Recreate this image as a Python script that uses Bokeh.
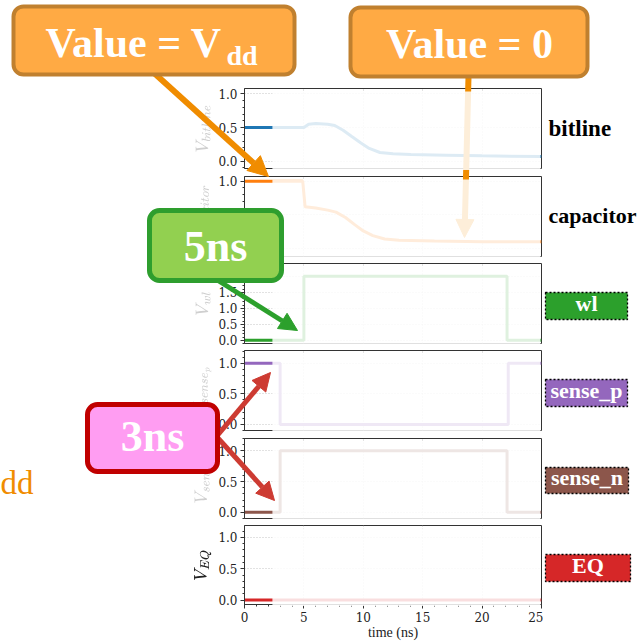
from bokeh.plotting import figure
from bokeh.layouts import column
from bokeh.models import (Range1d, SingleIntervalTicker, BoxAnnotation, Label,
                          Arrow, NormalHead, PrintfTickFormatter)
from bokeh.embed import file_html
from bokeh.resources import INLINE

# ---------------- data ----------------
signals = ["bitline", "capacitor", "wl", "sense_p", "sense_n", "EQ"]
colors = ["#1f77b4", "#ff7f0e", "#2ca02c", "#9467bd", "#8c564b", "#d62728"]
ylabels = [r"$$V_{bitline}$$", r"$$V_{capacitor}$$", r"$$V_{wl}$$",
           r"$$V_{sense_p}$$", r"$$V_{sense_n}$$", r"$$V_{EQ}$$"]

t_bitline = [0, 5.0, 5.4, 6.0, 7.0, 7.6, 8.3, 9.0, 9.8, 10.5, 11.4, 12.5, 14, 17, 20, 25]
v_bitline = [0.5, 0.5, 0.55, 0.56, 0.55, 0.53, 0.46, 0.37, 0.27, 0.19, 0.13, 0.11, 0.10, 0.09, 0.08, 0.07]

t_capacitor = [0, 4.9, 5.1, 6, 7, 7.7, 8.5, 9.3, 10, 10.8, 11.8, 13, 16, 20, 25]
v_capacitor = [1.0, 1.0, 0.62, 0.6, 0.57, 0.54, 0.46, 0.35, 0.26, 0.19, 0.14, 0.12, 0.11, 0.10, 0.10]

t_wl = [0, 5.0, 5.0, 22.1, 22.1, 25]
v_wl = [0, 0, 2.0, 2.0, 0, 0]

t_sense_p = [0, 3.0, 3.0, 22.2, 22.2, 25]
v_sense_p = [1, 1, 0, 0, 1, 1]

t_sense_n = [0, 3.0, 3.0, 22.1, 22.1, 25]
v_sense_n = [0, 0, 1, 1, 0, 0]

t_EQ = [0, 25]
v_EQ = [0, 0]

series_t = [t_bitline, t_capacitor, t_wl, t_sense_p, t_sense_n, t_EQ]
series_v = [v_bitline, v_capacitor, v_wl, v_sense_p, v_sense_n, v_EQ]
y_limits = [(-0.108, 1.08), (-0.12, 1.07), (-0.10, 2.40),
            (-0.10, 1.21), (-0.10, 1.20), (-0.07, 1.19)]
x_limits = (0, 25)
t_highlight = 2.35        # visible (non-faded) part of the animation frame

# ---------------- layout geometry (page pixels) ----------------
PAGE_W, PAGE_H = 640, 644
FRAME_LEFT, FRAME_W = 244, 297
BORDER_L, BORDER_R, BORDER_T = 80, 2, 2
frame_tops = [88, 176, 263, 350, 438, 525]
frame_hs = [80, 80, 80, 80, 80, 79]

SERIF = "DejaVu Serif"
BOX_FONT = "Liberation Serif"

children = []
for i in range(6):
    last = (i == 5)
    bb = 39 if last else 6
    p = figure(width=BORDER_L + FRAME_W + BORDER_R, height=BORDER_T + frame_hs[i] + bb,
               x_range=Range1d(*x_limits), y_range=Range1d(*y_limits[i]),
               toolbar_location=None, output_backend="svg", title=None,
               x_axis_location="below" if last else None,
               min_border_left=BORDER_L, min_border_right=BORDER_R,
               min_border_top=BORDER_T, min_border_bottom=bb)
    p.styles = {"position": "absolute",
                "left": f"{FRAME_LEFT - BORDER_L}px",
                "top": f"{frame_tops[i] - BORDER_T}px"}
    p.outline_line_color = "#333333"
    p.outline_line_width = 1
    p.background_fill_color = "white"
    p.border_fill_color = None

    p.yaxis.ticker = SingleIntervalTicker(interval=0.5, num_minor_ticks=5)
    p.yaxis.formatter = PrintfTickFormatter(format="%.1f")
    p.xgrid.ticker = SingleIntervalTicker(interval=5)
    p.ygrid.ticker = SingleIntervalTicker(interval=0.5)
    for g in (p.xgrid, p.ygrid):
        g.grid_line_color = "#b8b8b8"
        g.grid_line_dash = "1 2"
        g.grid_line_alpha = 0.8
        g.grid_line_width = 1

    axes = [p.yaxis[0]] + ([p.xaxis[0]] if last else [])
    for ax in axes:
        ax.axis_line_color = "#333333"
        ax.major_tick_line_color = "#333333"
        ax.minor_tick_line_color = "#333333"
        ax.major_tick_out = 4
        ax.major_tick_in = 0
        ax.minor_tick_out = 2
        ax.minor_tick_in = 0
        ax.major_label_text_font = SERIF
        ax.major_label_text_font_size = "12px"
        ax.major_label_text_color = "#222222"
        ax.major_label_standoff = 3
    p.yaxis.axis_label = ylabels[i]
    p.yaxis.axis_label_text_font_size = "14px"
    p.yaxis.axis_label_standoff = 4
    p.yaxis.axis_label_text_color = "#222222" if last else "#cfcfcf"
    if last:
        p.xaxis.ticker = SingleIntervalTicker(interval=5, num_minor_ticks=5)
        p.xaxis.axis_label = "time (ns)"
        p.xaxis.axis_label_text_font = BOX_FONT
        p.xaxis.axis_label_text_font_style = "normal"
        p.xaxis.axis_label_text_font_size = "14px"
        p.xaxis.axis_label_text_color = "#222222"
        p.xaxis.axis_label_standoff = 0

    p.line(series_t[i], series_v[i], line_width=3, color=colors[i])
    children.append(p)

# ---------------- annotation layer ----------------
ann = figure(width=PAGE_W, height=PAGE_H, x_range=Range1d(0, PAGE_W), y_range=Range1d(PAGE_H, 0),
             x_axis_type=None, y_axis_type=None, toolbar_location=None,
             output_backend="svg", title=None, min_border=0,
             min_border_left=0, min_border_right=0, min_border_top=0, min_border_bottom=0,
             outline_line_color=None, background_fill_color=None, border_fill_color=None)

ORANGE = "#f08c00"
# vertical arrow, beneath the fading veil
ann.add_layout(Arrow(x_start=468, y_start=76, x_end=464, y_end=237, line_color=ORANGE,
                     line_width=6, level="underlay",
                     end=NormalHead(size=18, fill_color=ORANGE, line_color=ORANGE)))

# fading veil over the not-yet-reached part of each panel
px_per_t = FRAME_W / (x_limits[1] - x_limits[0])
veil_left = FRAME_LEFT + t_highlight * px_per_t
ann.quad(left=[veil_left] * 6, right=[FRAME_LEFT + FRAME_W - 1] * 6,
         top=[ft + 3 for ft in frame_tops],
         bottom=[ft + fh + 1.5 for ft, fh in zip(frame_tops, frame_hs)],
         fill_color="white", fill_alpha=0.85, line_color=None)

def arrow(x0, y0, x1, y1, color, w=5, size=18):
    ann.add_layout(Arrow(x_start=x0, y_start=y0, x_end=x1, y_end=y1, line_color=color,
                         line_width=w,
                         end=NormalHead(size=size, fill_color=color, line_color=color)))

arrow(153, 72, 268, 176, ORANGE, w=6, size=20)
arrow(216, 279, 297, 330, "#2ca02c", w=5, size=18)
RED = "#cd3b32"
arrow(216, 436, 270, 372, RED, w=5, size=18)
arrow(216, 436, 274, 500, RED, w=5, size=18)

def callout(l, r, t, b, fill, line, lw):
    ann.add_layout(BoxAnnotation(left=l, right=r, top=t, bottom=b, fill_color=fill,
                                 fill_alpha=1, line_color=line, line_alpha=1, line_width=lw,
                                 border_radius=10))

callout(13, 294, 6, 74, "#ffaa44", "#c0802f", 4)
callout(350, 587, 7, 76, "#ffaa44", "#c0802f", 4)
callout(149, 281, 210, 280, "#92d050", "#2e9e2e", 5)
callout(87, 217, 404, 471, "#ff9df2", "#c00000", 5)

BASE_SHIFT = 0.38   # rendered alphabetic baseline sits ~0.38em lower than asked

def label(x, y, text, size, color="white", align="left", style="bold", font=BOX_FONT):
    ann.add_layout(Label(x=x, y=y - BASE_SHIFT * size, text=text, text_font=font,
                         text_font_style=style, text_font_size=f"{size}px",
                         text_color=color, text_align=align, text_baseline="alphabetic"))

label(45, 58, "Value = V", 42)
label(226, 66, "dd", 28)
label(469, 59, "Value = 0", 42, align="center")
label(215, 263, "5ns", 44, align="center")
label(152, 453, "3ns", 44, align="center")
label(0, 495, "dd", 33, color=ORANGE, style="normal")

label(548, 137, "bitline", 23, color="black")
label(548, 223, "capacitor", 22, color="black")
tags = [("wl", 2, 292, 319, 627, 311), ("sense_p", 3, 379, 406, 627, 398),
        ("sense_n", 4, 467, 493, 628, 485), ("EQ", 5, 554, 581, 630, 573)]
for name, ci, t, b, r, base in tags:
    ann.add_layout(BoxAnnotation(left=545, right=r, top=t, bottom=b, fill_color=colors[ci],
                                 fill_alpha=1, line_color="black", line_alpha=1,
                                 line_width=1.3, line_dash="2 2"))
    label((545 + r) / 2, base, name, 22, align="center")

ann_box = column(ann, width=PAGE_W, height=PAGE_H)
ann_box.styles = {"position": "absolute", "left": "0px", "top": "0px", "z-index": "5"}
children.append(ann_box)

root = column(*children, width=PAGE_W, height=PAGE_H)
root.styles = {"position": "relative"}

open("out.html", "w").write(file_html(root, INLINE))
